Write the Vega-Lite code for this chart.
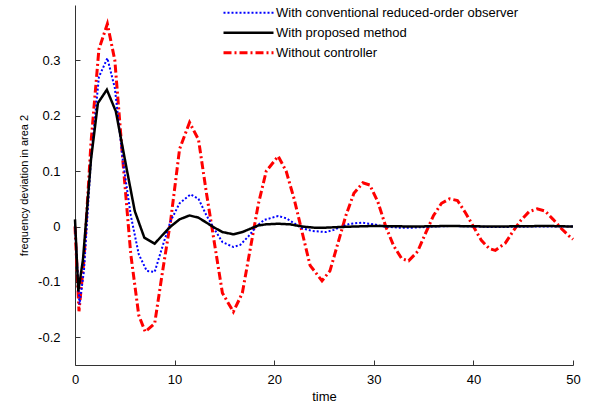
{
  "$schema": "https://vega.github.io/schema/vega-lite/v6.json",
  "autosize": {"type": "none"},
  "padding": {"left": 75, "top": 5, "right": 24, "bottom": 42},
  "width": 498,
  "height": 360,
  "background": "white",
  "config": {
    "view": {"stroke": null},
    "font": "Liberation Sans",
    "axis": {
      "grid": false,
      "domainColor": "#333333",
      "tickColor": "#333333",
      "labelColor": "#000000",
      "titleColor": "#000000",
      "labelFontSize": 13,
      "titleFontWeight": "normal",
      "labelFont": "Liberation Sans",
      "titleFont": "Liberation Sans"
    },
    "legend": {
      "title": null, "orient": "none", "legendX": 147, "legendY": -2,
      "symbolType": "stroke", "symbolSize": 2500, "labelFontSize": 13,
      "labelFont": "Liberation Sans", "labelColor": "#000000", "rowPadding": 0, "clipHeight": 19.5,
      "labelOffset": 1, "labelLimit": 400
    }
  },
  "datasets": {
    "series": [
      {"t": 0, "v": 0.0, "s": "Without controller"},
      {"t": 0.4, "v": -0.153, "s": "Without controller"},
      {"t": 0.9, "v": -0.06, "s": "Without controller"},
      {"t": 1.6, "v": 0.15, "s": "Without controller"},
      {"t": 2.4, "v": 0.32, "s": "Without controller"},
      {"t": 3.25, "v": 0.366, "s": "Without controller"},
      {"t": 4.0, "v": 0.3, "s": "Without controller"},
      {"t": 4.8, "v": 0.12, "s": "Without controller"},
      {"t": 5.6, "v": -0.05, "s": "Without controller"},
      {"t": 6.4, "v": -0.16, "s": "Without controller"},
      {"t": 7.05, "v": -0.19, "s": "Without controller"},
      {"t": 8.0, "v": -0.175, "s": "Without controller"},
      {"t": 8.8, "v": -0.08, "s": "Without controller"},
      {"t": 9.6, "v": 0.01, "s": "Without controller"},
      {"t": 10.5, "v": 0.14, "s": "Without controller"},
      {"t": 11.5, "v": 0.188, "s": "Without controller"},
      {"t": 12.4, "v": 0.157, "s": "Without controller"},
      {"t": 13.2, "v": 0.06, "s": "Without controller"},
      {"t": 14.0, "v": -0.03, "s": "Without controller"},
      {"t": 14.8, "v": -0.12, "s": "Without controller"},
      {"t": 15.9, "v": -0.154, "s": "Without controller"},
      {"t": 16.8, "v": -0.12, "s": "Without controller"},
      {"t": 17.6, "v": -0.04, "s": "Without controller"},
      {"t": 18.4, "v": 0.04, "s": "Without controller"},
      {"t": 19.2, "v": 0.1, "s": "Without controller"},
      {"t": 20.4, "v": 0.127, "s": "Without controller"},
      {"t": 21.2, "v": 0.1, "s": "Without controller"},
      {"t": 22.0, "v": 0.05, "s": "Without controller"},
      {"t": 22.8, "v": -0.01, "s": "Without controller"},
      {"t": 23.6, "v": -0.07, "s": "Without controller"},
      {"t": 24.8, "v": -0.098, "s": "Without controller"},
      {"t": 25.6, "v": -0.08, "s": "Without controller"},
      {"t": 26.4, "v": -0.03, "s": "Without controller"},
      {"t": 27.2, "v": 0.02, "s": "Without controller"},
      {"t": 28.0, "v": 0.06, "s": "Without controller"},
      {"t": 28.9, "v": 0.079, "s": "Without controller"},
      {"t": 29.6, "v": 0.075, "s": "Without controller"},
      {"t": 30.4, "v": 0.045, "s": "Without controller"},
      {"t": 31.2, "v": 0.0, "s": "Without controller"},
      {"t": 32.0, "v": -0.035, "s": "Without controller"},
      {"t": 32.8, "v": -0.058, "s": "Without controller"},
      {"t": 33.5, "v": -0.062, "s": "Without controller"},
      {"t": 34.4, "v": -0.045, "s": "Without controller"},
      {"t": 35.2, "v": -0.012, "s": "Without controller"},
      {"t": 36.0, "v": 0.02, "s": "Without controller"},
      {"t": 36.8, "v": 0.042, "s": "Without controller"},
      {"t": 37.6, "v": 0.05, "s": "Without controller"},
      {"t": 38.4, "v": 0.047, "s": "Without controller"},
      {"t": 39.2, "v": 0.025, "s": "Without controller"},
      {"t": 40.0, "v": 0.0, "s": "Without controller"},
      {"t": 40.8, "v": -0.025, "s": "Without controller"},
      {"t": 41.6, "v": -0.04, "s": "Without controller"},
      {"t": 42.2, "v": -0.043, "s": "Without controller"},
      {"t": 43.2, "v": -0.03, "s": "Without controller"},
      {"t": 44.0, "v": -0.008, "s": "Without controller"},
      {"t": 44.8, "v": 0.012, "s": "Without controller"},
      {"t": 45.6, "v": 0.027, "s": "Without controller"},
      {"t": 46.4, "v": 0.032, "s": "Without controller"},
      {"t": 47.2, "v": 0.028, "s": "Without controller"},
      {"t": 48.0, "v": 0.013, "s": "Without controller"},
      {"t": 48.8, "v": -0.003, "s": "Without controller"},
      {"t": 49.6, "v": -0.017, "s": "Without controller"},
      {"t": 50.0, "v": -0.023, "s": "Without controller"},

      {"t": 0, "v": 0.0, "s": "With conventional reduced-order observer"},
      {"t": 0.45, "v": -0.14, "s": "With conventional reduced-order observer"},
      {"t": 0.9, "v": -0.08, "s": "With conventional reduced-order observer"},
      {"t": 1.6, "v": 0.12, "s": "With conventional reduced-order observer"},
      {"t": 2.4, "v": 0.27, "s": "With conventional reduced-order observer"},
      {"t": 3.25, "v": 0.304, "s": "With conventional reduced-order observer"},
      {"t": 4.0, "v": 0.25, "s": "With conventional reduced-order observer"},
      {"t": 4.8, "v": 0.12, "s": "With conventional reduced-order observer"},
      {"t": 5.6, "v": 0.02, "s": "With conventional reduced-order observer"},
      {"t": 6.4, "v": -0.05, "s": "With conventional reduced-order observer"},
      {"t": 7.2, "v": -0.08, "s": "With conventional reduced-order observer"},
      {"t": 8.0, "v": -0.082, "s": "With conventional reduced-order observer"},
      {"t": 8.8, "v": -0.035, "s": "With conventional reduced-order observer"},
      {"t": 9.6, "v": 0.01, "s": "With conventional reduced-order observer"},
      {"t": 10.5, "v": 0.042, "s": "With conventional reduced-order observer"},
      {"t": 11.6, "v": 0.058, "s": "With conventional reduced-order observer"},
      {"t": 12.4, "v": 0.05, "s": "With conventional reduced-order observer"},
      {"t": 13.2, "v": 0.02, "s": "With conventional reduced-order observer"},
      {"t": 14.0, "v": -0.005, "s": "With conventional reduced-order observer"},
      {"t": 14.8, "v": -0.028, "s": "With conventional reduced-order observer"},
      {"t": 15.9, "v": -0.037, "s": "With conventional reduced-order observer"},
      {"t": 16.6, "v": -0.033, "s": "With conventional reduced-order observer"},
      {"t": 17.4, "v": -0.018, "s": "With conventional reduced-order observer"},
      {"t": 18.2, "v": 0.0, "s": "With conventional reduced-order observer"},
      {"t": 19.0, "v": 0.012, "s": "With conventional reduced-order observer"},
      {"t": 20.4, "v": 0.019, "s": "With conventional reduced-order observer"},
      {"t": 21.2, "v": 0.015, "s": "With conventional reduced-order observer"},
      {"t": 22.0, "v": 0.006, "s": "With conventional reduced-order observer"},
      {"t": 22.8, "v": -0.003, "s": "With conventional reduced-order observer"},
      {"t": 23.8, "v": -0.008, "s": "With conventional reduced-order observer"},
      {"t": 25.2, "v": -0.01, "s": "With conventional reduced-order observer"},
      {"t": 26.0, "v": -0.006, "s": "With conventional reduced-order observer"},
      {"t": 26.8, "v": 0.0, "s": "With conventional reduced-order observer"},
      {"t": 27.6, "v": 0.005, "s": "With conventional reduced-order observer"},
      {"t": 28.8, "v": 0.007, "s": "With conventional reduced-order observer"},
      {"t": 30.0, "v": 0.004, "s": "With conventional reduced-order observer"},
      {"t": 31.0, "v": 0.0, "s": "With conventional reduced-order observer"},
      {"t": 32.5, "v": -0.002, "s": "With conventional reduced-order observer"},
      {"t": 34.0, "v": -0.002, "s": "With conventional reduced-order observer"},
      {"t": 36.0, "v": 0.0, "s": "With conventional reduced-order observer"},
      {"t": 38.0, "v": 0.001, "s": "With conventional reduced-order observer"},
      {"t": 42.0, "v": -0.001, "s": "With conventional reduced-order observer"},
      {"t": 46.0, "v": 0.0, "s": "With conventional reduced-order observer"},
      {"t": 50.0, "v": 0.0, "s": "With conventional reduced-order observer"},

      {"t": 0, "v": 0.013, "s": "With proposed method"},
      {"t": 0.33, "v": -0.117, "s": "With proposed method"},
      {"t": 0.8, "v": -0.06, "s": "With proposed method"},
      {"t": 1.2, "v": 0.03, "s": "With proposed method"},
      {"t": 1.6, "v": 0.12, "s": "With proposed method"},
      {"t": 2.3, "v": 0.223, "s": "With proposed method"},
      {"t": 3.2, "v": 0.247, "s": "With proposed method"},
      {"t": 4.1, "v": 0.208, "s": "With proposed method"},
      {"t": 5.2, "v": 0.103, "s": "With proposed method"},
      {"t": 6.0, "v": 0.028, "s": "With proposed method"},
      {"t": 6.96, "v": -0.02, "s": "With proposed method"},
      {"t": 8.0, "v": -0.031, "s": "With proposed method"},
      {"t": 8.8, "v": -0.015, "s": "With proposed method"},
      {"t": 9.6, "v": 0.0, "s": "With proposed method"},
      {"t": 10.5, "v": 0.013, "s": "With proposed method"},
      {"t": 11.5, "v": 0.02, "s": "With proposed method"},
      {"t": 12.4, "v": 0.016, "s": "With proposed method"},
      {"t": 13.2, "v": 0.007, "s": "With proposed method"},
      {"t": 14.0, "v": -0.002, "s": "With proposed method"},
      {"t": 14.8, "v": -0.01, "s": "With proposed method"},
      {"t": 15.9, "v": -0.014, "s": "With proposed method"},
      {"t": 16.8, "v": -0.01, "s": "With proposed method"},
      {"t": 17.6, "v": -0.004, "s": "With proposed method"},
      {"t": 18.4, "v": 0.002, "s": "With proposed method"},
      {"t": 19.2, "v": 0.004, "s": "With proposed method"},
      {"t": 20.4, "v": 0.005, "s": "With proposed method"},
      {"t": 21.6, "v": 0.004, "s": "With proposed method"},
      {"t": 22.8, "v": 0.0, "s": "With proposed method"},
      {"t": 24.0, "v": -0.002, "s": "With proposed method"},
      {"t": 25.2, "v": -0.002, "s": "With proposed method"},
      {"t": 26.4, "v": -0.001, "s": "With proposed method"},
      {"t": 28.0, "v": 0.0, "s": "With proposed method"},
      {"t": 30.0, "v": 0.001, "s": "With proposed method"},
      {"t": 34.0, "v": 0.0, "s": "With proposed method"},
      {"t": 37.5, "v": 0.001, "s": "With proposed method"},
      {"t": 42.0, "v": 0.0, "s": "With proposed method"},
      {"t": 47.5, "v": 0.001, "s": "With proposed method"},
      {"t": 50.0, "v": 0.0, "s": "With proposed method"}
    ]
  },
  "data": {"name": "series"},
  "mark": {"type": "line", "strokeJoin": "miter", "strokeCap": "butt"},
  "encoding": {
    "x": {
      "field": "t", "type": "quantitative",
      "scale": {"domain": [0, 50], "nice": false, "zero": false},
      "axis": {"title": "time", "titleFontSize": 13, "titlePadding": 4, "values": [0, 10, 20, 30, 40, 50], "tickSize": -5, "labelPadding": 13, "labelFlush": false}
    },
    "y": {
      "field": "v", "type": "quantitative",
      "scale": {"domain": [-0.25, 0.4], "nice": false, "zero": false},
      "axis": {"title": "frequency deviation in area 2", "titleFontSize": 11, "titlePadding": 8, "values": [-0.2, -0.1, 0, 0.1, 0.2, 0.3], "tickSize": -5, "labelPadding": 20, "labelExpr": "replace(format(datum.value, '~g'), '\u2212', '-')"}
    },
    "color": {
      "field": "s", "type": "nominal",
      "scale": {
        "domain": ["With conventional reduced-order observer", "With proposed method", "Without controller"],
        "range": ["#0000ff", "#000000", "#ff0000"]
      },
      "legend": {"title": null}
    },
    "strokeDash": {
      "field": "s", "type": "nominal",
      "scale": {
        "domain": ["With conventional reduced-order observer", "With proposed method", "Without controller"],
        "range": [[2, 2], [1, 0], [8, 3, 2, 3]]
      },
      "legend": {"title": null}
    },
    "strokeWidth": {
      "field": "s", "type": "nominal",
      "scale": {
        "domain": ["With conventional reduced-order observer", "With proposed method", "Without controller"],
        "range": [2, 3, 2]
      },
      "legend": {"title": null}
    }
  }
}
